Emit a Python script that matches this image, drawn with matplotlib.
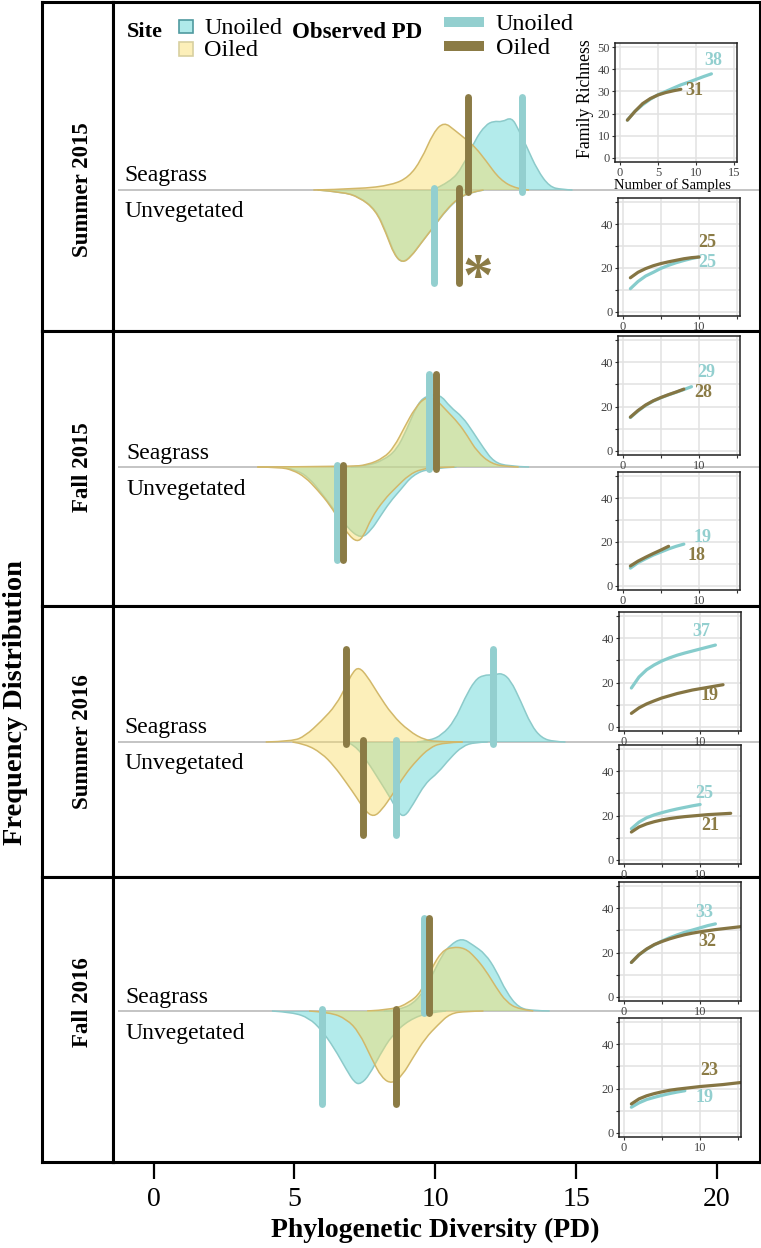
import matplotlib
matplotlib.use("Agg")
import matplotlib.pyplot as plt
from matplotlib.patches import Rectangle, PathPatch
from matplotlib.path import Path

plt.rcParams['font.family'] = ['Liberation Serif', 'DejaVu Serif']

W, H = 761, 1248

# density curves, PD and height of the ridge
sg15_un_x = [9.94, 10.53, 10.97, 11.41, 11.78, 12.08, 12.37, 12.71, 12.96, 13.25, 13.62, 14.06, 14.5, 14.87]
sg15_un_y = [0.5, 8, 23, 50, 65, 69, 68, 73, 60, 43, 20, 3, 0.5, 0]
sg15_oil_x = [5.67, 7.29, 8.47, 9.06, 9.5, 9.94, 10.31, 10.68, 11.12, 11.41, 11.78, 12.3, 12.89, 13.33]
sg15_oil_y = [0, 1, 5, 13, 30, 58, 68, 60, 50, 43, 30, 10, 1, 0]
uv15_un_x = [5.84, 6.72, 7.31, 7.9, 8.27, 8.56, 8.82, 9.15, 9.52, 9.96, 10.4, 10.84, 11.29, 11.73]
uv15_un_y = [0, -2, -7, -20, -43, -65, -73, -66, -52, -36, -20, -8, -2, 0]
uv15_oil_x = [5.82, 6.7, 7.29, 7.88, 8.25, 8.54, 8.84, 9.13, 9.5, 9.94, 10.38, 10.82, 11.27, 11.71]
uv15_oil_y = [0, -2, -7, -20, -43, -65, -73, -67, -53, -37, -20, -8, -2, 0]

sg25_un_x = [7.0, 7.58, 8.17, 8.62, 8.98, 9.35, 9.65, 10.16, 10.53, 10.97, 11.34, 11.71, 12.08, 12.59, 13.33]
sg25_un_y = [0, 1, 7, 17, 37, 62, 71, 73, 60, 50, 35, 19, 5, 0.7, 0]
sg25_oil_x = [3.68, 7.0, 7.58, 8.17, 8.54, 8.91, 9.28, 9.65, 10.01, 10.38, 10.82, 11.12, 11.49, 12.0, 12.59, 12.96]
sg25_oil_y = [0, 0.5, 2, 9, 20, 40, 59, 70, 68, 57, 44, 32, 15, 3, 0.3, 0]
uv25_un_x = [4.64, 5.08, 5.52, 5.96, 6.41, 6.85, 7.36, 7.73, 8.03, 8.39, 8.76, 9.2, 9.79, 10.75]
uv25_un_y = [-0.3, -3, -11, -26, -43, -60, -72, -63, -50, -35, -23, -8, -1.3, 0]
uv25_oil_x = [3.68, 4.49, 4.93, 5.38, 5.82, 6.26, 6.63, 6.92, 7.22, 7.44, 7.73, 8.17, 8.62, 9.06, 9.5, 10.09, 10.68]
uv25_oil_y = [0, -0.3, -3, -10, -23, -38, -55, -68, -75, -70, -51, -33, -20, -8, -2, -0.3, 0]

sg16_un_x = [9.35, 9.79, 10.24, 10.68, 11.05, 11.41, 11.71, 12.08, 12.37, 12.67, 13.03, 13.4, 13.77, 14.21, 14.62]
sg16_un_y = [0, 1.3, 7, 21, 44, 62, 67, 67, 69, 62, 41, 17, 4, 0.3, 0]
sg16_oil_x = [3.98, 4.93, 5.38, 5.96, 6.48, 6.85, 7.07, 7.29, 7.58, 7.95, 8.47, 9.06, 9.65, 10.24, 10.97]
sg16_oil_y = [0, 0.7, 6, 21, 37, 57, 70, 75, 66, 49, 27, 11, 1.5, 0.3, 0]
uv16_un_x = [6.85, 7.14, 7.58, 8.03, 8.47, 8.69, 8.91, 9.2, 9.65, 10.09, 10.53, 10.97, 11.41, 11.86]
uv16_un_y = [0, -3, -19, -39, -59, -71, -75, -63, -41, -31, -16, -4, -0.3, 0]
uv16_oil_x = [4.93, 5.38, 5.96, 6.41, 6.85, 7.22, 7.51, 7.81, 8.1, 8.47, 8.91, 9.35, 9.79, 10.24, 10.97]
uv16_oil_y = [0, -2, -11, -24, -41, -56, -69, -75, -68, -53, -33, -18, -6, -0.7, 0]

sg26_un_x = [8.17, 8.76, 9.35, 9.79, 10.24, 10.53, 10.94, 11.34, 11.78, 12.15, 12.52, 12.96, 13.48, 14.06]
sg26_un_y = [0, 1, 10, 30, 56, 66, 73, 66, 57, 41, 19, 3, 0.3, 0]
sg26_oil_x = [7.58, 8.47, 9.06, 9.5, 9.87, 10.24, 10.6, 11.05, 11.41, 11.78, 12.15, 12.52, 12.96, 13.48]
sg26_oil_y = [0, 1.3, 8, 19, 43, 60, 64, 63, 54, 41, 24, 9, 1.7, 0]
uv26_un_x = [4.2, 4.93, 5.52, 5.96, 6.41, 6.85, 7.14, 7.36, 7.66, 8.03, 8.47, 9.06, 9.79, 10.38]
uv26_un_y = [0, -1.3, -7, -19, -37, -59, -72, -73, -64, -44, -24, -9, -1.3, 0]
uv26_oil_x = [5.52, 6.26, 6.85, 7.29, 7.73, 8.1, 8.47, 8.84, 9.2, 9.65, 10.09, 10.53, 11.12, 11.71]
uv26_oil_y = [0, -1.3, -8, -21, -47, -67, -73, -64, -47, -27, -14, -2.3, -0.3, 0]

# observed PD: seagrass unoiled, seagrass oiled, unvegetated unoiled, unvegetated oiled
obs15 = [13.08, 11.15, 9.96, 10.84]
obs25 = [9.79, 10.01, 6.51, 6.72]
obs16 = [12.06, 6.82, 8.6, 7.45]
obs26 = [9.6, 9.79, 5.99, 8.62]

# rarefaction curves, one value per sample count starting at 1
rich_sg15_un = [17, 21, 24, 26.5, 28.5, 30, 31.5, 33, 34.2, 35.5, 36.8, 38]
rich_sg15_oil = [17, 21, 24.5, 26.8, 28.4, 29.5, 30.3, 31]
rich_uv15_un = [10.5, 13.8, 16.3, 18, 19.8, 21.2, 22.4, 23.4, 24.3, 25]
rich_uv15_oil = [15.5, 18, 19.7, 21, 22, 22.8, 23.5, 24.2, 24.7, 25]
rich_sg25_un = [15, 18, 20.5, 22.5, 24, 25.3, 26.5, 27.7, 29]
rich_sg25_oil = [15.2, 18.2, 20.7, 22.6, 24.1, 25.4, 26.6, 27.9]
rich_uv25_un = [8, 10.5, 12.3, 14, 15.4, 16.8, 18, 19]
rich_uv25_oil = [9, 11.2, 13, 14.7, 16.3, 18]
rich_sg16_un = [17.5, 22.5, 25.8, 28, 29.8, 31.2, 32.4, 33.4, 34.3, 35.2, 36.1, 37]
rich_sg16_oil = [6, 8.5, 10.3, 11.7, 13, 14, 15, 15.8, 16.6, 17.2, 17.8, 18.4, 19]
rich_uv16_un = [14, 17, 19, 20.3, 21.3, 22.2, 23, 23.7, 24.4, 25]
rich_uv16_oil = [12.5, 14.8, 16.2, 17.2, 18, 18.6, 19.1, 19.5, 19.8, 20.1, 20.4, 20.6, 20.8, 21]
rich_sg26_un = [15.5, 19, 21.5, 23.5, 25.2, 26.7, 28, 29.2, 30.2, 31.2, 32.2, 33]
rich_sg26_oil = [15.5, 19, 21.6, 23.6, 25, 26.2, 27.2, 28.1, 28.8, 29.4, 29.9, 30.4, 30.8, 31.2, 31.6, 32]
rich_uv26_un = [11.5, 13.5, 15, 16, 16.9, 17.7, 18.4, 19]
rich_uv26_oil = [13, 15.3, 16.7, 17.7, 18.5, 19.2, 19.7, 20.1, 20.5, 20.9, 21.2, 21.5, 21.8, 22.2, 22.6, 23]

seasons = ["Summer 2015", "Fall 2015", "Summer 2016", "Fall 2016"]
pd_ticks = [0, 5, 10, 15, 20]

TEAL_FILL = "#5FD5D5"
YEL_FILL = "#F9DC66"
TEAL_EDGE = "#8CCACA"
YEL_EDGE = "#D2B86A"
TEAL = "#93CFCF"
BROWN = "#8B7B45"
CURVE_TEAL = "#86CCCC"
CURVE_BROWN = "#857543"


def px_axes(x0, y0, x1, y1):
    # pixel box measured from the top left of the picture
    return fig.add_axes([x0 / W, 1 - y1 / H, (x1 - x0) / W, (y1 - y0) / H])


def ptext(x, y, s, **kw):
    kw.setdefault('va', 'center')
    fig.text(x / W, 1 - y / H, s, **kw)


def ridge(ax, x, y, fill, edge):
    # quadratic beziers between midpoints so the read points give a smooth outline
    verts = [(x[0], y[0])]
    codes = [Path.MOVETO]
    for i in range(1, len(x) - 1):
        verts.append((x[i], y[i]))
        codes.append(Path.CURVE3)
        if i < len(x) - 2:
            verts.append(((x[i] + x[i + 1]) / 2, (y[i] + y[i + 1]) / 2))
        else:
            verts.append((x[-1], y[-1]))
        codes.append(Path.CURVE3)
    ax.add_patch(PathPatch(Path(verts + [(x[0], y[0])], codes + [Path.CLOSEPOLY]),
                           fc=fill, alpha=0.47 if fill == TEAL_FILL else 0.45, lw=0))
    ax.add_patch(PathPatch(Path(verts, codes), fc='none', ec=edge, lw=1.1))


def panel(y0, y1, base, season, season_y, curves, obs, lab_x, lab_sg, lab_uv):
    side = px_axes(42, y0, 113, y1)
    side.set_xticks([])
    side.set_yticks([])
    ptext(82, season_y, season, rotation=90, ha='center', fontsize=16.5, fontweight='bold')

    ax = px_axes(113, y0, 760, y1)
    # 1 y unit is 1 pixel, 28.17 px per PD unit
    ax.set_xlim((113 - 153.6) / 28.17, (760 - 153.6) / 28.17)
    ax.set_ylim(base - y1, base - y0)
    ax.axhline(0, xmin=0.01, color="#C4C4C4", lw=1.4, zorder=1)
    for x, y, fill, edge in curves:
        ridge(ax, x, y, fill, edge)
    ax.plot([obs[0]] * 2, [93, -2], color=TEAL, lw=5, solid_capstyle='round', zorder=4)
    ax.plot([obs[1]] * 2, [93, -2], color=BROWN, lw=5, solid_capstyle='round', zorder=5)
    ax.plot([obs[2]] * 2, [2, -93], color=TEAL, lw=5, solid_capstyle='round', zorder=4)
    ax.plot([obs[3]] * 2, [2, -93], color=BROWN, lw=5, solid_capstyle='round', zorder=5)
    ax.set_yticks([])
    ax.set_xticks([])
    for sp in list(ax.spines.values()) + list(side.spines.values()):
        sp.set_linewidth(2.2)
    ptext(lab_x, lab_sg + 2, "Seagrass", fontsize=17)
    ptext(lab_x, lab_uv + 2, "Unvegetated", fontsize=17)
    return ax


def inset(x0, y0, x1, y1, un, oil, un_lab, oil_lab, x_labels, y_labels):
    ax = px_axes(x0, y0, x1, y1)
    ax.set_xlim(-0.62, 15.35)
    ax.set_ylim(-2, 52)
    ax.set_xticks([0, 5, 10, 15])
    ax.set_yticks([0, 10, 20, 30, 40, 50])
    ax.set_xticklabels(x_labels)
    ax.set_yticklabels(y_labels)
    ax.grid(color="#E2E2E2", lw=1.1)
    ax.set_axisbelow(True)
    ax.tick_params(length=2, width=0.8, pad=1.5, labelsize=9, labelcolor="#444444", color="#333333")
    for sp in ax.spines.values():
        sp.set_linewidth(1.1)
        sp.set_color("#222222")
    ax.plot(range(1, len(un) + 1), un, color=CURVE_TEAL, lw=2.3, solid_capstyle='round')
    ax.plot(range(1, len(oil) + 1), oil, color=CURVE_BROWN, lw=2.3, solid_capstyle='round')
    ax.text(un_lab[0], un_lab[1], un_lab[2], color=TEAL, fontsize=13, fontweight='bold', ha='center', va='center')
    ax.text(oil_lab[0], oil_lab[1], oil_lab[2], color=BROWN, fontsize=13, fontweight='bold', ha='center', va='center')
    return ax


fig = plt.figure(figsize=(W / 100, H / 100), dpi=100, facecolor='white')

panel(2, 331, 190, seasons[0], 190,
      [(sg15_un_x, sg15_un_y, TEAL_FILL, TEAL_EDGE), (uv15_un_x, uv15_un_y, TEAL_FILL, TEAL_EDGE),
       (sg15_oil_x, sg15_oil_y, YEL_FILL, YEL_EDGE), (uv15_oil_x, uv15_oil_y, YEL_FILL, YEL_EDGE)],
      obs15, 124.5, 173, 209)
panel(331, 606, 467, seasons[1], 467,
      [(sg25_un_x, sg25_un_y, TEAL_FILL, TEAL_EDGE), (uv25_un_x, uv25_un_y, TEAL_FILL, TEAL_EDGE),
       (sg25_oil_x, sg25_oil_y, YEL_FILL, YEL_EDGE), (uv25_oil_x, uv25_oil_y, YEL_FILL, YEL_EDGE)],
      obs25, 126.5, 452, 487)
panel(606, 877, 742, seasons[2], 742,
      [(sg16_un_x, sg16_un_y, TEAL_FILL, TEAL_EDGE), (uv16_un_x, uv16_un_y, TEAL_FILL, TEAL_EDGE),
       (sg16_oil_x, sg16_oil_y, YEL_FILL, YEL_EDGE), (uv16_oil_x, uv16_oil_y, YEL_FILL, YEL_EDGE)],
      obs16, 124.5, 726, 762)
bottom = panel(877, 1162, 1011, seasons[3], 1002,
               [(sg26_un_x, sg26_un_y, TEAL_FILL, TEAL_EDGE), (uv26_un_x, uv26_un_y, TEAL_FILL, TEAL_EDGE),
                (sg26_oil_x, sg26_oil_y, YEL_FILL, YEL_EDGE), (uv26_oil_x, uv26_oil_y, YEL_FILL, YEL_EDGE)],
               obs26, 125.5, 995, 1031)

bottom.set_xticks(pd_ticks)
bottom.tick_params(axis='x', length=12, width=1.6, labelsize=20, pad=6)
ptext(435, 1230, "Phylogenetic Diversity (PD)", ha='center', fontsize=20, fontweight='bold')
ptext(16, 703, "Frequency Distribution", rotation=90, ha='center', fontsize=20.5, fontweight='bold')

# significance mark
ptext(478, 280, "*", ha='center', color=BROWN, fontsize=44, fontweight='bold')

# legend
ptext(127, 32, "Site", fontsize=16, fontweight='bold')
ptext(292.5, 33, "Observed PD", fontsize=16.5, fontweight='bold')
fig.add_artist(Rectangle((179 / W, 1 - 33 / H), 14 / W, 13 / H, transform=fig.transFigure,
                         fc="#AFEAEA", ec="#4F9A9F", lw=1.2))
fig.add_artist(Rectangle((179 / W, 1 - 56 / H), 14 / W, 14 / H, transform=fig.transFigure,
                         fc="#FCEFB9", ec="#D8D0A0", lw=1.2))
fig.add_artist(Rectangle((444 / W, 1 - 27 / H), 40 / W, 10 / H, transform=fig.transFigure, fc=TEAL, ec='none'))
fig.add_artist(Rectangle((444 / W, 1 - 51 / H), 40 / W, 10 / H, transform=fig.transFigure, fc=BROWN, ec='none'))
ptext(204.5, 28, "Unoiled", fontsize=17.5)
ptext(204.5, 51, "Oiled", fontsize=17.5)
ptext(496, 25, "Unoiled", fontsize=17.5)
ptext(496, 48, "Oiled", fontsize=17.5)

x_short = ["0", "", "10", ""]
y_short = ["0", "", "20", "", "40", ""]

first = inset(615, 43, 737, 162, rich_sg15_un, rich_sg15_oil, (12.3, 44, "38"), (9.75, 30.3, "31"),
              ["0", "5", "10", "15"], ["0", "10", "20", "30", "40", "50"])
first.set_xlabel("Number of Samples", fontsize=10.5)
first.xaxis.set_label_coords(0.47, -0.135)
first.set_ylabel("Family Richness", fontsize=12.8)
first.yaxis.set_label_coords(-0.17, 0.53)
inset(618, 198, 740, 316, rich_uv15_un, rich_uv15_oil, (11.1, 22.5, "25"), (11.1, 31.5, "25"), x_short, y_short)
inset(618, 336, 740, 455, rich_sg25_un, rich_sg25_oil, (10.9, 35.5, "29"), (10.6, 26.5, "28"), x_short, y_short)
inset(618, 472, 740, 590, rich_uv25_un, rich_uv25_oil, (10.5, 22, "19"), (9.6, 13.7, "18"), x_short, y_short)
inset(619, 612, 741, 731, rich_sg16_un, rich_sg16_oil, (10.2, 43, "37"), (11.2, 14, "19"), x_short, y_short)
inset(619, 745, 741, 864, rich_uv16_un, rich_uv16_oil, (10.6, 30, "25"), (11.3, 15.4, "21"), x_short, y_short)
inset(619, 882, 741, 1001, rich_sg26_un, rich_sg26_oil, (10.6, 38.2, "33"), (11, 25, "32"), x_short, y_short)
inset(619, 1018, 741, 1137, rich_uv26_un, rich_uv26_oil, (10.6, 15.7, "19"), (11.2, 28.2, "23"), x_short, y_short)

fig.savefig("out.png", dpi=100)
